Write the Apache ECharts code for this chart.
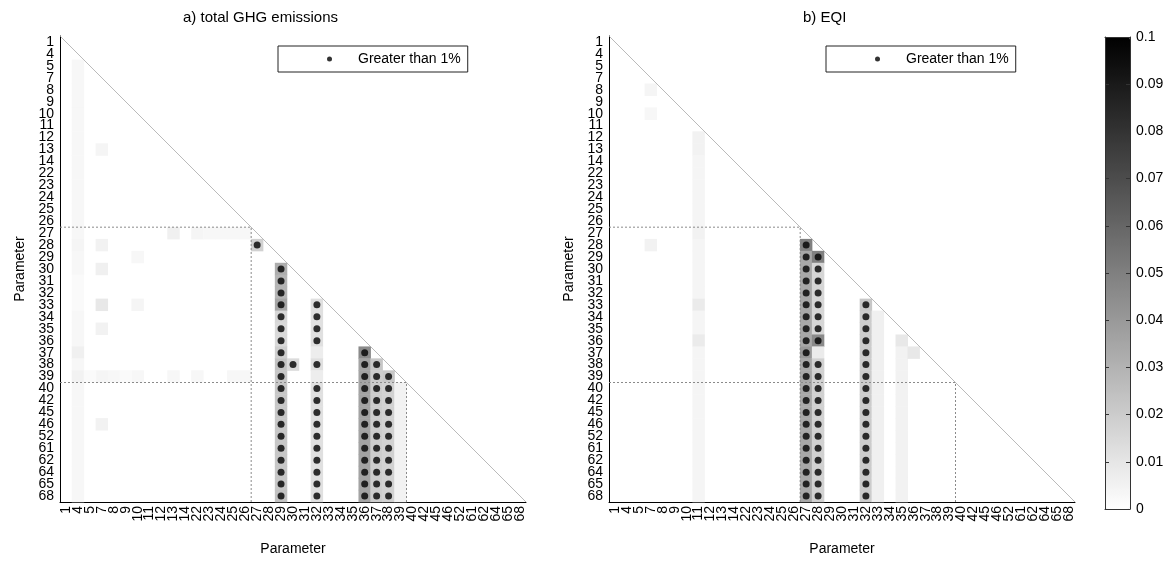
<!DOCTYPE html>
<html>
<head>
<meta charset="utf-8">
<script src="https://cdn.jsdelivr.net/npm/echarts@6/dist/echarts.min.js"></script>
<style>
html, body { margin: 0; padding: 0; background: #fff; }
#chart { width: 1176px; height: 565px; }
</style>
</head>
<body>
<div id="chart"></div>
<script>
// parameter ids, same order on both axes
const params = ['1', '4', '5', '7', '8', '9', '10', '11', '12', '13', '14', '22', '23', '24', '25', '26', '27', '28', '29', '30',
    '31', '32', '33', '34', '35', '36', '37', '38', '39', '40', '42', '45', '46', '52', '61', '62', '64', '65', '68'];

// a) total GHG emissions - column arrays start at the row just below the diagonal
const ghgCol4 = [0.003, 0.003, 0.003, 0.003, 0.003, 0.003, 0.003, 0.003, 0.003, 0.003, 0.003, 0.003, 0.003, 0.003, 0.003, 0.004,
    0.003, 0.003, 0.002, 0.002, 0.002, 0.003, 0.003, 0.003, 0.006, 0.003, 0.005, 0.003, 0.003, 0.003, 0.003, 0.003, 0.003, 0.003,
    0.003, 0.003, 0.003];
const ghgCol29 = [0.032, 0.029, 0.029, 0.035, 0.016, 0.015, 0.015, 0.019, 0.024, 0.022, 0.022, 0.022, 0.022, 0.022, 0.022, 0.022,
    0.022, 0.022, 0.022, 0.024];
const ghgCol32 = [0.012, 0.012, 0.012, 0.012, 0.007, 0.012, 0.007, 0.012, 0.012, 0.012, 0.012, 0.012, 0.012, 0.012, 0.012, 0.012, 0.012];
const ghgCol36 = [0.046, 0.036, 0.036, 0.036, 0.036, 0.036, 0.036, 0.036, 0.036, 0.036, 0.036, 0.036, 0.036];
const ghgCol37 = [0.022, 0.020, 0.020, 0.020, 0.020, 0.020, 0.020, 0.020, 0.020, 0.020, 0.020, 0.020];
const ghgCol38 = [0.022, 0.018, 0.018, 0.018, 0.018, 0.018, 0.018, 0.018, 0.018, 0.018, 0.018];
const ghgCol39 = [0.005, 0.005, 0.005, 0.005, 0.005, 0.005, 0.005, 0.005, 0.005, 0.005];
// single cells: [column, row, value]
const ghgSpots = [
    ['27', '28', 0.018], ['30', '38', 0.014],
    ['7', '13', 0.004], ['7', '28', 0.005], ['7', '30', 0.006], ['7', '33', 0.009], ['7', '35', 0.005], ['7', '39', 0.004], ['7', '46', 0.005],
    ['10', '29', 0.003], ['10', '33', 0.004], ['10', '39', 0.003],
    ['13', '27', 0.006], ['22', '27', 0.004], ['23', '27', 0.003], ['24', '27', 0.003], ['25', '27', 0.003], ['26', '27', 0.003],
    ['5', '39', 0.002], ['8', '39', 0.003], ['9', '39', 0.002], ['13', '39', 0.003], ['22', '39', 0.003], ['25', '39', 0.003], ['26', '39', 0.003]
];

// b) EQI
const eqiCol11 = [0.005, 0.005, 0.004, 0.004, 0.004, 0.004, 0.004, 0.004, 0.005, 0.004, 0.004, 0.004, 0.004, 0.004, 0.008, 0.004,
    0.004, 0.008, 0.004, 0.004, 0.004, 0.004, 0.004, 0.004, 0.004, 0.004, 0.004, 0.004, 0.004, 0.004, 0.004];
const eqiCol27 = [0.050, 0.034, 0.034, 0.034, 0.034, 0.034, 0.034, 0.034, 0.034, 0.040, 0.034, 0.034, 0.034, 0.034, 0.034, 0.034,
    0.034, 0.034, 0.034, 0.034, 0.034, 0.034];
const eqiCol28 = [0.050, 0.016, 0.016, 0.016, 0.016, 0.016, 0.016, 0.046, 0.008, 0.018, 0.018, 0.018, 0.018, 0.018, 0.018, 0.018,
    0.018, 0.018, 0.018, 0.018, 0.018];
const eqiCol32 = [0.022, 0.020, 0.020, 0.020, 0.020, 0.020, 0.020, 0.020, 0.020, 0.020, 0.020, 0.020, 0.020, 0.020, 0.020, 0.020, 0.020];
const eqiCol33 = [0.006, 0.006, 0.006, 0.006, 0.006, 0.006, 0.006, 0.006, 0.006, 0.006, 0.006, 0.006, 0.006, 0.006, 0.006, 0.006];
const eqiCol35 = [0.009, 0.005, 0.005, 0.005, 0.005, 0.005, 0.005, 0.005, 0.005, 0.005, 0.005, 0.005, 0.005, 0.005];
const eqiSpots = [['7', '8', 0.004], ['7', '10', 0.003], ['7', '28', 0.005], ['36', '37', 0.009]];

const guideBreaks = ['27', '40'];
const dotLimit = 0.01;
const dotName = 'Greater than 1%';

function columnCells(col, values) {
    const c = params.indexOf(col);
    return values.map(function (v, i) { return [c, c + 1 + i, v]; });
}
function spotCells(spots) {
    return spots.map(function (s) { return [params.indexOf(s[0]), params.indexOf(s[1]), s[2]]; });
}

const ghgData = [].concat(
    columnCells('4', ghgCol4), columnCells('29', ghgCol29), columnCells('32', ghgCol32),
    columnCells('36', ghgCol36), columnCells('37', ghgCol37), columnCells('38', ghgCol38),
    columnCells('39', ghgCol39), spotCells(ghgSpots));
const eqiData = [].concat(
    columnCells('11', eqiCol11), columnCells('27', eqiCol27), columnCells('28', eqiCol28),
    columnCells('32', eqiCol32), columnCells('33', eqiCol33), columnCells('35', eqiCol35),
    spotCells(eqiSpots));

function dots(data) {
    return data.filter(function (d) { return d[2] > dotLimit; }).map(function (d) { return [d[0], d[1]]; });
}

const font = 'Liberation Sans, Arial, sans-serif';
const n = params.length;

function catX(g) {
    return {
        type: 'category', gridIndex: g, data: params, position: 'bottom',
        name: 'Parameter', nameLocation: 'middle', nameGap: 40,
        nameTextStyle: { fontSize: 14, color: '#000', fontFamily: font },
        axisLine: { onZero: false, lineStyle: { color: '#000', width: 1 } },
        axisTick: { inside: true, alignWithLabel: true, length: 4, lineStyle: { color: '#000' } },
        axisLabel: { interval: 0, rotate: 90, margin: 4, fontSize: 14, color: '#000', fontFamily: font },
        splitLine: { show: false }
    };
}
function catY(g) {
    return {
        type: 'category', gridIndex: g, data: params, inverse: true, position: 'left',
        name: 'Parameter', nameLocation: 'middle', nameGap: 33,
        nameTextStyle: { fontSize: 14, color: '#000', fontFamily: font },
        axisLine: { onZero: false, lineStyle: { color: '#000', width: 1 } },
        axisTick: { inside: true, alignWithLabel: true, length: 4, lineStyle: { color: '#000' } },
        axisLabel: { interval: 0, margin: 6, fontSize: 14, color: '#000', fontFamily: font },
        splitLine: { show: false }
    };
}
function hiddenVal(g, inverse) {
    return { type: 'value', gridIndex: g, min: 0, max: n, inverse: inverse, show: false,
        axisLine: { onZero: false } };
}
function barFrame(pos) {
    return {
        type: 'value', gridIndex: 2, min: 0, max: 1, position: pos, z: 10,
        axisLine: { onZero: false, lineStyle: { color: '#333' } }, axisTick: { show: false },
        axisLabel: { show: false }, splitLine: { show: false }
    };
}
function barScale(pos, labels) {
    return {
        type: 'value', gridIndex: 2, min: 0, max: 0.1, interval: 0.01, position: pos, z: 10,
        axisLine: { onZero: false, lineStyle: { color: '#333' } },
        axisTick: { inside: true, length: 4, lineStyle: { color: '#333' } },
        axisLabel: {
            show: labels, margin: 6, fontSize: 14, color: '#000', fontFamily: font,
            formatter: function (v) { return String(+v.toFixed(2)); }
        },
        splitLine: { show: false }
    };
}
function guideSeries(xi, yi) {
    return guideBreaks.map(function (b) {
        const k = params.indexOf(b);
        return {
            type: 'line', xAxisIndex: xi, yAxisIndex: yi, silent: true, symbol: 'none', z: 3,
            lineStyle: { color: '#8a8a8a', width: 1, type: [2, 2] },
            data: [[0, k], [k, k], [k, n]]
        };
    });
}
function diagSeries(xi, yi) {
    return {
        type: 'line', xAxisIndex: xi, yAxisIndex: yi, silent: true, symbol: 'none', z: 3,
        lineStyle: { color: '#a8a8a8', width: 0.8 },
        data: [[0, 0], [n, n]]
    };
}
function dotLegend(left) {
    return {
        left: left, top: 46, data: [dotName], icon: 'circle', itemWidth: 5, itemHeight: 5,
        padding: [6, 7, 6, 49], borderColor: '#222', borderWidth: 1, selectedMode: false,
        textStyle: { fontSize: 14, color: '#000', fontFamily: font, padding: [0, 0, 0, 21] }
    };
}

let chart = echarts.init(document.getElementById('chart'));
let option = {
    animation: false,
    backgroundColor: '#fff',
    title: [
        { text: 'a) total GHG emissions', left: 183, top: 10, padding: 0,
          textStyle: { fontSize: 15, fontWeight: 'normal', color: '#000', fontFamily: font } },
        { text: 'b) EQI', left: 803, top: 10, padding: 0,
          textStyle: { fontSize: 15, fontWeight: 'normal', color: '#000', fontFamily: font } }
    ],
    legend: [dotLegend(278), dotLegend(826)],
    grid: [
        { left: 60, top: 36, width: 466, height: 466 },
        { left: 609, top: 36, width: 466, height: 466 },
        { left: 1105, top: 37, width: 25, height: 472 }
    ],
    xAxis: [catX(0), catX(1), hiddenVal(0, false), hiddenVal(1, false), barFrame('bottom'), barFrame('top')],
    yAxis: [catY(0), catY(1), hiddenVal(0, true), hiddenVal(1, true), barScale('left', false), barScale('right', true)],
    visualMap: {
        type: 'continuous', min: 0, max: 0.1, seriesIndex: [0, 1], calculable: false, hoverLink: false,
        orient: 'vertical', left: 1105, top: 37, itemWidth: 25, itemHeight: 472, padding: 0,
        inRange: { color: ['#ffffff', '#000000'] }
    },
    series: [
        { type: 'heatmap', xAxisIndex: 0, yAxisIndex: 0, data: ghgData, z: 1 },
        { type: 'heatmap', xAxisIndex: 1, yAxisIndex: 1, data: eqiData, z: 1 },
        { name: dotName, type: 'scatter', xAxisIndex: 0, yAxisIndex: 0, symbolSize: 7,
          itemStyle: { color: '#000' }, data: dots(ghgData), z: 5 },
        { name: dotName, type: 'scatter', xAxisIndex: 1, yAxisIndex: 1, symbolSize: 7,
          itemStyle: { color: '#000' }, data: dots(eqiData), z: 5 },
        diagSeries(2, 2),
        diagSeries(3, 3)
    ].concat(guideSeries(2, 2), guideSeries(3, 3))
};
chart.setOption(option);
window.onresize = chart.resize;
</script>
</body>
</html>
